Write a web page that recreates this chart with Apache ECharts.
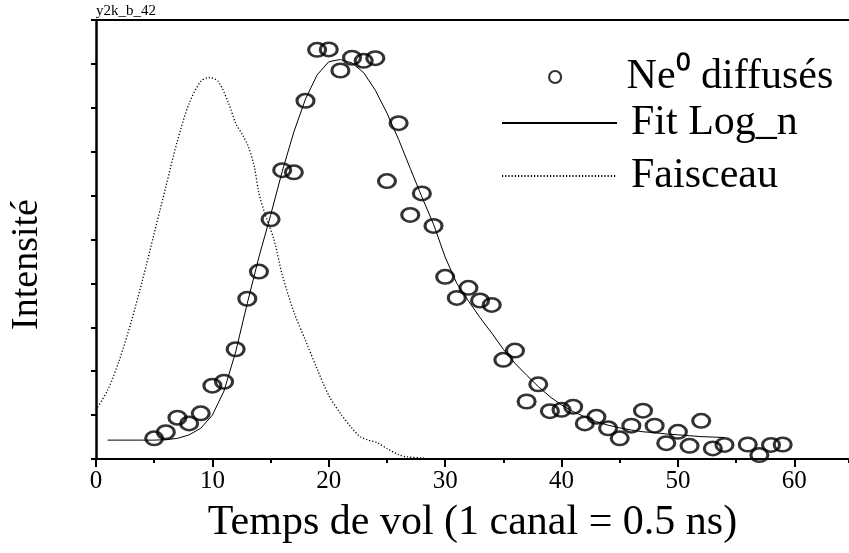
<!DOCTYPE html>
<html>
<head>
<meta charset="utf-8">
<script src="https://cdn.jsdelivr.net/npm/echarts@6/dist/echarts.min.js"></script>
<style>html,body{margin:0;padding:0;background:#fff}#c{width:849px;height:553px}</style>
</head>
<body>
<div id="c"></div>
<script>
// Scatter: Ne0 diffusés (channel, intensity)
const scatX = [5,6,7,8,9,10,11,12,13,14,15,16,17,18,19,20,21,22,23,24,25,26,27,28,29,30,31,32,33,34,35,36,37,38,39,40,41,42,43,44,45,46,47,48,49,50,51,52,53,54,56,57,58,59];
const scatY = [0.47,0.61,0.94,0.81,1.04,1.67,1.76,2.50,3.65,4.27,5.46,6.58,6.53,8.16,9.32,9.33,8.85,9.14,9.07,9.13,6.33,7.65,5.56,6.05,5.31,4.15,3.67,3.90,3.61,3.51,2.26,2.47,1.31,1.70,1.09,1.12,1.19,0.81,0.96,0.70,0.47,0.76,1.10,0.76,0.36,0.62,0.30,0.87,0.24,0.32,0.33,0.09,0.32,0.33];
// Fit Log_n curve
const fitX = [1,2,3,4,5,6,7,8,9,10,11,12,13,14,15,16,17,18,19,20,21,22,23,24,25,26,27,28,29,30,31,32,33,34,35,36,37,38,39,40,41,42,43,44,45,46,47,48,49,50,51,52,53,54];
const fitY = [0.43,0.43,0.43,0.43,0.43,0.44,0.47,0.55,0.70,1.00,1.55,2.44,3.55,4.60,5.55,6.55,7.45,8.20,8.75,9.05,9.10,9.02,8.80,8.40,7.88,7.28,6.62,5.97,5.35,4.60,4.00,3.60,3.22,2.87,2.50,2.18,1.91,1.65,1.42,1.23,1.08,0.96,0.85,0.77,0.71,0.66,0.62,0.60,0.57,0.55,0.53,0.51,0.50,0.49];
// Faisceau (beam)
const beamX = [0,1,2,3,4,5,6,7,8,9,9.7,10.5,11.4,12,12.6,13.1,13.6,14,14.5,15.3,16,17,18,19,20,21,22,22.7,23.4,24.1,25,26,26.7,28.2];
const beamY = [1.12,1.57,2.25,3.10,4.08,5.14,6.20,7.25,8.10,8.60,8.69,8.60,8.10,7.65,7.38,7.11,6.66,6.05,5.60,4.99,4.20,3.35,2.70,2.05,1.45,1.04,0.70,0.51,0.43,0.38,0.24,0.10,0.05,0.02];
const xLabels = [0,10,20,30,40,50,60];

const FONT = 'Liberation Serif';
const pair = (xs, ys) => xs.map((x, i) => [x, ys[i]]);
const XMAX = 64.7;

const chart = echarts.init(document.getElementById('c'), null, {renderer: 'canvas'});
const legendBase = {
  orient: 'vertical', left: 501, align: 'left', padding: 0, itemWidth: 115, itemHeight: 12,
  selectedMode: false,
  textStyle: {fontFamily: FONT, fontSize: 42, color: '#000', lineHeight: 46, padding: [0, 0, 0, 9]}
};
chart.setOption({
  animation: false,
  backgroundColor: '#fff',
  title: {text: 'y2k_b_42', left: 96, top: 4, padding: 0,
    textStyle: {fontFamily: FONT, fontSize: 15, fontWeight: 'normal', color: '#000'}},
  grid: {left: 95, top: 20, right: -1, bottom: 94},
  legend: [
    Object.assign({}, legendBase, {top: 54, left: 548, icon: 'circle',
      itemStyle: {color: '#fff', borderColor: '#000', borderWidth: 2.2}, data: ['Ne⁰ diffusés']}),
    Object.assign({}, legendBase, {top: 100, itemStyle: {opacity: 0}, data: ['Fit Log_n']}),
    Object.assign({}, legendBase, {top: 153, itemStyle: {opacity: 0}, data: ['Faisceau']})
  ],
  xAxis: [
    {type: 'value', position: 'bottom', min: 0, max: XMAX, interval: 10,
      axisLine: {lineStyle: {color: '#000', width: 2}},
      axisTick: {length: 8, lineStyle: {color: '#000', width: 2}},
      splitLine: {show: false},
      axisLabel: {fontFamily: FONT, fontSize: 25, color: '#000', margin: 10, showMaxLabel: false,
        formatter: v => xLabels.indexOf(v) >= 0 ? String(v) : ''},
      name: 'Temps de vol (1 canal = 0.5 ns)', nameLocation: 'middle', nameGap: 43,
      nameTextStyle: {fontFamily: FONT, fontSize: 42, color: '#000'}},
    {type: 'value', position: 'bottom', min: 0, max: XMAX * 2, interval: 10,
      axisLine: {show: false},
      axisTick: {length: 4, lineStyle: {color: '#000', width: 2}},
      axisLabel: {show: false}, splitLine: {show: false}},
    {type: 'value', position: 'top', min: 0, max: XMAX,
      axisLine: {lineStyle: {color: '#000', width: 2}},
      axisTick: {show: false}, axisLabel: {show: false}, splitLine: {show: false}}
  ],
  yAxis: {type: 'value', min: 0, max: 10, interval: 1,
    axisLine: {show: true, lineStyle: {color: '#000', width: 2.5}},
    axisTick: {show: true, length: 5, lineStyle: {color: '#000', width: 2}},
    axisLabel: {show: false}, splitLine: {show: false},
    name: 'Intensité', nameLocation: 'middle', nameGap: 50,
    nameTextStyle: {fontFamily: FONT, fontSize: 38, color: '#000', padding: [0, 50, 0, 0]}},
  series: [
    {name: 'Ne⁰ diffusés', type: 'scatter', xAxisIndex: 0, data: pair(scatX, scatY),
      symbol: 'circle', symbolSize: [17, 13.5],
      itemStyle: {color: 'rgba(0,0,0,0)', borderColor: '#000', borderWidth: 2.8}, z: 3},
    {name: 'Fit Log_n', type: 'line', xAxisIndex: 0, data: pair(fitX, fitY),
      symbol: 'none', lineStyle: {color: '#000', width: 1}, itemStyle: {color: '#000'}, z: 2},
    {name: 'Faisceau', type: 'line', xAxisIndex: 0, data: pair(beamX, beamY), smooth: 0.3,
      symbol: 'none', lineStyle: {color: '#000', width: 1.3, type: [1.2, 2]}, itemStyle: {color: '#000'}, z: 2}
  ]
});
</script>
</body>
</html>
